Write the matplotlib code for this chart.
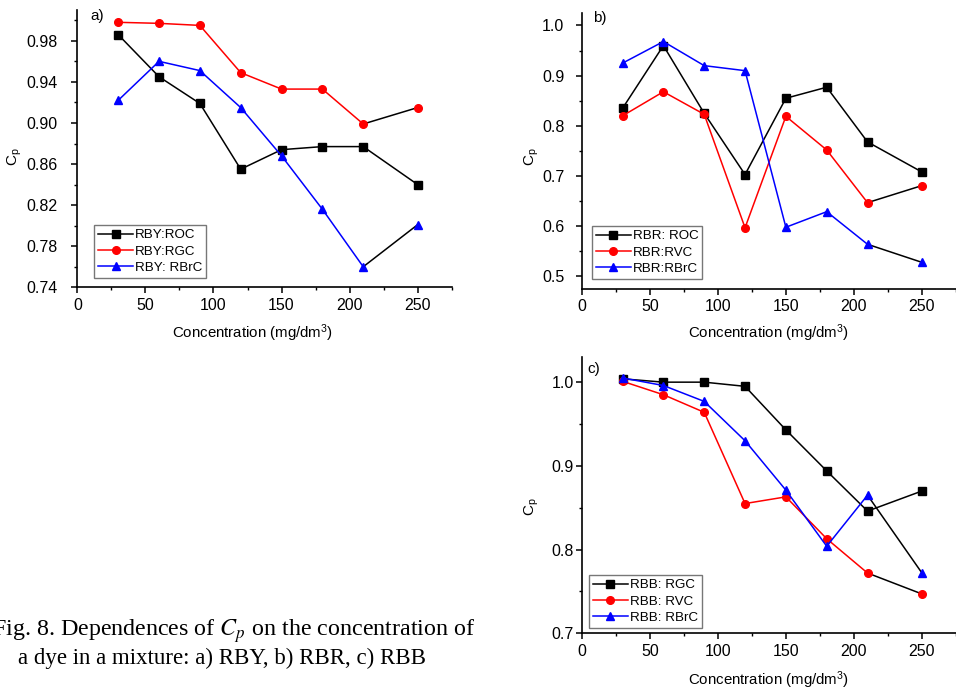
import numpy as np
import matplotlib
matplotlib.use('Agg')
import matplotlib.pyplot as plt
from matplotlib.ticker import MultipleLocator, FixedLocator

plt.rcParams['font.family'] = ['Liberation Sans', 'DejaVu Sans']
plt.rcParams['mathtext.fontset'] = 'stix'

conc = [30, 60, 90, 120, 150, 180, 210, 250]

# a) RBY
rby_roc = [0.986, 0.945, 0.919, 0.855, 0.874, 0.877, 0.877, 0.840]
rby_rgc = [0.998, 0.997, 0.995, 0.949, 0.933, 0.933, 0.899, 0.915]
rby_rbrc = [0.922, 0.960, 0.951, 0.915, 0.868, 0.816, 0.760, 0.801]

# b) RBR
rbr_roc = [0.835, 0.960, 0.825, 0.703, 0.855, 0.877, 0.768, 0.708]
rbr_rvc = [0.820, 0.868, 0.823, 0.597, 0.819, 0.752, 0.647, 0.681]
rbr_rbrc = [0.925, 0.968, 0.920, 0.910, 0.598, 0.629, 0.564, 0.528]

# c) RBB
rbb_rgc = [1.004, 1.000, 1.000, 0.995, 0.943, 0.894, 0.846, 0.870]
rbb_rvc = [1.001, 0.985, 0.964, 0.855, 0.863, 0.813, 0.772, 0.747]
rbb_rbrc = [1.005, 0.996, 0.977, 0.930, 0.871, 0.804, 0.865, 0.772]

yticks_a = [0.74, 0.78, 0.82, 0.86, 0.90, 0.94, 0.98]
yminor_a = [0.76, 0.80, 0.84, 0.88, 0.92, 0.96, 1.00]
yticks_b = [0.5, 0.6, 0.7, 0.8, 0.9, 1.0]
yticks_c = [0.7, 0.8, 0.9, 1.0]

fig = plt.figure(figsize=(9.56, 6.89), dpi=100)

panels = [
    # rect, series, labels, ylim, yticks, fmt, ypad, tag, tagpos, legpos, ylabpos, xlabpos
    ([0.0809, 0.583, 0.3916, 0.4025],
     [rby_roc, rby_rgc, rby_rbrc], ['RBY:ROC', 'RBY:RGC', 'RBY: RBrC'],
     (0.74, 1.01), yticks_a, '%.2f', 10.5, 'a)', (0.034, 0.978), (0.045, 0.034), (-0.166, 0.47), (0.467, -0.165)),
    ([0.6085, 0.5806, 0.3915, 0.4006],
     [rbr_roc, rbr_rvc, rbr_rbrc], ['RBR: ROC', 'RBR:RVC', 'RBR:RBrC'],
     (0.475, 1.025), yticks_b, '%.1f', 8.5, 'b)', (0.03, 0.982), (0.0275, 0.036), (-0.133, 0.478), (0.498, -0.16)),
    ([0.6085, 0.0808, 0.3915, 0.401],
     [rbb_rgc, rbb_rvc, rbb_rbrc], ['RBB: RGC', 'RBB: RVC', 'RBB: RBrC'],
     (0.7, 1.03), yticks_c, '%.1f', 1.5, 'c)', (0.015, 0.956), (0.019, 0.019), (-0.134, 0.458), (0.498, -0.169)),
]

colors = ['black', 'red', 'blue']
markers = ['s', 'o', '^']

for rect, series, labels, ylim, yticks, fmt, ypad, tag, tagpos, legpos, ylabpos, xlabpos in panels:
    ax = fig.add_axes(rect)
    for ys, lab, c, m in zip(series, labels, colors, markers):
        ax.plot(conc[:-1], ys[:-1], color=c, lw=1.1, marker=m, ms=5.5,
                mec=c, mfc=c, label=lab, zorder=3)
        # last segment is drawn in black in the original
        ax.plot(conc[-2:], ys[-2:], color='black', lw=1.1, zorder=2)
        ax.plot(conc[-1:], ys[-1:], ls='none', marker=m, ms=5.5, color=c, zorder=3)
    ax.set_xlim(0, 275)
    ax.set_ylim(*ylim)
    ax.xaxis.set_major_locator(MultipleLocator(50))
    ax.xaxis.set_minor_locator(MultipleLocator(25))
    ax.yaxis.set_major_locator(FixedLocator(yticks))
    if tag == 'a)':
        ax.yaxis.set_minor_locator(FixedLocator(yminor_a))
    else:
        ax.yaxis.set_minor_locator(MultipleLocator(0.05))
    ax.yaxis.set_major_formatter(plt.FormatStrFormatter(fmt))
    ax.spines['top'].set_visible(False)
    ax.spines['right'].set_visible(False)
    for s in ['left', 'bottom']:
        ax.spines[s].set_linewidth(1.2)
    ax.tick_params(which='major', direction='out', length=4, width=1.1, labelsize=11.5)
    ax.tick_params(which='minor', direction='out', length=2.5, width=1.0)
    ax.tick_params(axis='y', which='major', pad=ypad)
    ax.set_ylabel(r'$\mathregular{C_p}$', fontsize=11, va='center')
    ax.yaxis.set_label_coords(*ylabpos)
    ax.set_xlabel(r'Concentration (mg/dm$\mathregular{^3}$)', fontsize=10.8, va='center')
    ax.xaxis.set_label_coords(*xlabpos)
    ax.text(tagpos[0], tagpos[1], tag, transform=ax.transAxes, fontsize=11,
            ha='left', va='center')
    leg = ax.legend(loc='lower left', bbox_to_anchor=legpos, borderaxespad=0,
                    fontsize=9.6, fancybox=False, framealpha=1, handlelength=2.6,
                    labelspacing=0.3, borderpad=0.3, handletextpad=0.15)
    leg.get_frame().set_edgecolor('#777777')
    leg.get_frame().set_linewidth(1.0)

fig.text(475 / 956, 1 - 631 / 689, 'Fig. 8. Dependences of $C_p$ on the concentration of',
         ha='right', va='center', fontsize=17.3, family='Liberation Serif')
fig.text(18 / 956, 1 - 658 / 689, 'a dye in a mixture: a) RBY, b) RBR, c) RBB',
         ha='left', va='center', fontsize=16.5, family='Liberation Serif')

fig.savefig('out.png', dpi=100)
